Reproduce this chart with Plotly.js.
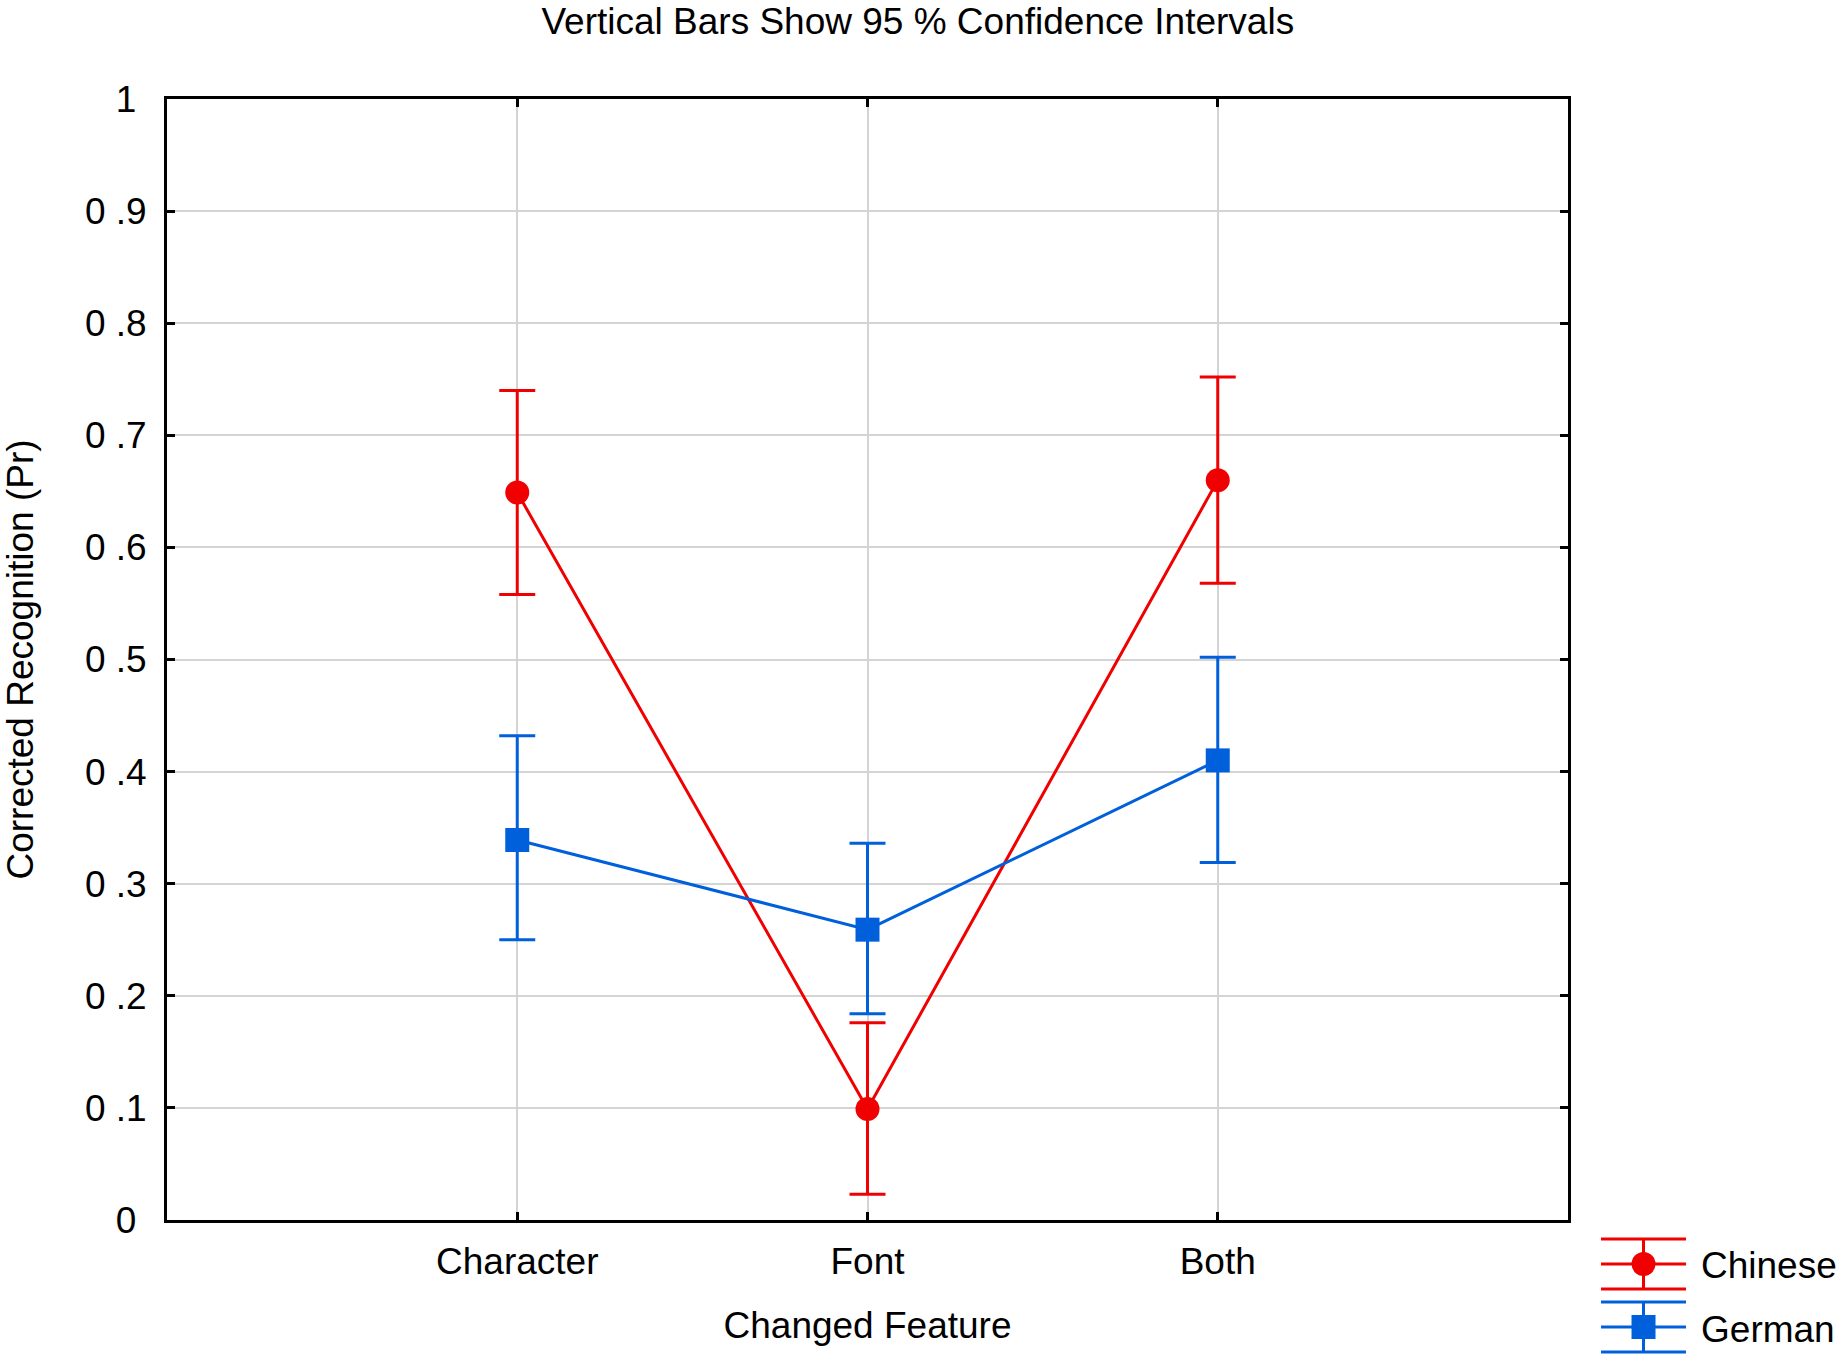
<!DOCTYPE html>
<html>
<head>
<meta charset="utf-8">
<script src="https://cdn.plot.ly/plotly-3.0.1.min.js"></script>
<style>
  html, body { margin: 0; padding: 0; background: #ffffff; }
  #chart { width: 1843px; height: 1371px; }
</style>
</head>
<body>
<div id="chart"></div>
<script>
// Values.
var categories = ['Character', 'Font', 'Both'];

var chineseMean  = [0.649, 0.099, 0.660];
var chineseLower = [0.558, 0.023, 0.568];
var chineseUpper = [0.740, 0.176, 0.752];

var germanMean  = [0.339, 0.259, 0.410];
var germanLower = [0.250, 0.184, 0.319];
var germanUpper = [0.432, 0.336, 0.502];

var yTickVals = [0, 0.1, 0.2, 0.3, 0.4, 0.5, 0.6, 0.7, 0.8, 0.9, 1];
// The source pads the whole numbers a little, so they don't line up with the decimals.
var yTickText = ['0\u00a0', '0 .1', '0 .2', '0 .3', '0 .4', '0 .5', '0 .6', '0 .7', '0 .8', '0 .9', '1\u00a0'];

var RED = '#f00000';
var BLUE = '#0060dc';
var FONT = 'Arial, "Liberation Sans", sans-serif';
var FONT_SIZE = 37;

function diff(a, b) {
    var out = [];
    for (var i = 0; i < a.length; i++) {
        out.push(+(a[i] - b[i]).toFixed(4));
    }
    return out;
}

function makeTrace(name, mean, lower, upper, color, symbol) {
    return {
        type: 'scatter',
        mode: 'lines+markers',
        name: name,
        legendgroup: name,
        x: categories,
        y: mean,
        line: { color: color, width: 3 },
        marker: { color: color, size: 24, symbol: symbol },
        error_y: {
            type: 'data',
            symmetric: false,
            array: diff(upper, mean),
            arrayminus: diff(mean, lower),
            color: color,
            thickness: 3,
            width: 18
        }
    };
}

var data = [
    makeTrace('Chinese', chineseMean, chineseLower, chineseUpper, RED, 'circle'),
    makeTrace('German', germanMean, germanLower, germanUpper, BLUE, 'square')
];

var layout = {
    width: 1843,
    height: 1371,
    paper_bgcolor: '#ffffff',
    plot_bgcolor: '#ffffff',
    font: { family: FONT, size: FONT_SIZE, color: '#000000' },
    // Margins are fixed so the outside legend doesn't squeeze the plot area.
    margin: { l: 167, r: 275, t: 99, b: 151, autoexpand: false },
    title: {
        text: 'Vertical Bars Show 95 % Confidence Intervals',
        font: { family: FONT, size: FONT_SIZE, color: '#000000' },
        xref: 'container',
        yref: 'container',
        x: 0.498,
        y: 0.985,
        xanchor: 'center',
        yanchor: 'middle'
    },
    xaxis: {
        type: 'category',
        range: [-1, 3],
        showline: true,
        linecolor: '#000000',
        linewidth: 3,
        mirror: 'ticks',
        ticks: 'inside',
        ticklen: 8,
        tickwidth: 3,
        tickcolor: '#000000',
        showgrid: true,
        gridcolor: '#d4d4d4',
        gridwidth: 2,
        zeroline: false,
        ticklabelstandoff: 7,
        tickfont: { family: FONT, size: FONT_SIZE },
        title: { text: 'Changed Feature', font: { family: FONT, size: FONT_SIZE }, standoff: 31 }
    },
    yaxis: {
        range: [0, 1],
        tickvals: yTickVals,
        ticktext: yTickText,
        showline: true,
        linecolor: '#000000',
        linewidth: 3,
        mirror: 'ticks',
        ticks: 'inside',
        ticklen: 8,
        tickwidth: 3,
        tickcolor: '#000000',
        showgrid: true,
        gridcolor: '#d4d4d4',
        gridwidth: 2,
        zeroline: false,
        ticklabelstandoff: 10,
        tickfont: { family: FONT, size: FONT_SIZE },
        title: {
            text: 'Corrected Recognition (Pr)',
            font: { family: FONT, size: FONT_SIZE },
            standoff: 40
        }
    },
    showlegend: true,
    legend: {
        x: 1.02,
        xanchor: 'left',
        y: -0.012,
        yanchor: 'top',
        font: { family: FONT, size: FONT_SIZE, color: '#000000' },
        bgcolor: 'rgba(0,0,0,0)',
        itemwidth: 95,
        tracegroupgap: 12
    }
};

var ICON_COLORS = { 'Chinese': RED, 'German': BLUE };
var ICON_WIDTH = 85;
var ICON_HALF_HEIGHT = 25;

function drawLegendIcons(gd) {
    // Plotly's legend shows only line + marker. The reference draws an error bar icon
    // (three horizontal bars and a stem) with a full size marker, so patch the svg here.
    var items = gd.querySelectorAll('.legend .traces');
    items.forEach(function (item) {
        var label = item.querySelector('.legendtext');
        var name = label ? label.textContent : '';
        var color = ICON_COLORS[name];
        var lineEl = item.querySelector('.legendlines path');
        var pts = item.querySelector('.legendpoints');
        if (!color || !lineEl || !pts) return;

        var box = lineEl.getBBox();
        var x1 = box.x + box.width - 10;
        var x0 = x1 - ICON_WIDTH;
        var cx = (x0 + x1) / 2;
        var h = ICON_HALF_HEIGHT;

        lineEl.setAttribute('d', 'M' + x0 + ',0h' + ICON_WIDTH);

        var caps = document.createElementNS('http://www.w3.org/2000/svg', 'path');
        caps.setAttribute('d',
            'M' + x0 + ',' + (-h) + 'h' + ICON_WIDTH +
            'M' + x0 + ',' + h + 'h' + ICON_WIDTH +
            'M' + cx + ',' + (-h) + 'v' + (2 * h));
        caps.setAttribute('fill', 'none');
        caps.setAttribute('stroke', color);
        caps.setAttribute('stroke-width', '3');
        pts.parentNode.insertBefore(caps, pts);

        var marker = pts.querySelector('path');
        if (marker) {
            var d = name === 'German' ? 'M12,12H-12V-12H12Z' : 'M12,0A12,12 0 1,1 0,-12A12,12 0 0,1 12,0Z';
            marker.setAttribute('d', d);
            marker.setAttribute('transform', 'translate(' + cx + ',0)');
        }
    });
}

Plotly.newPlot('chart', data, layout, { displayModeBar: false, staticPlot: true }).then(drawLegendIcons);
</script>
</body>
</html>
